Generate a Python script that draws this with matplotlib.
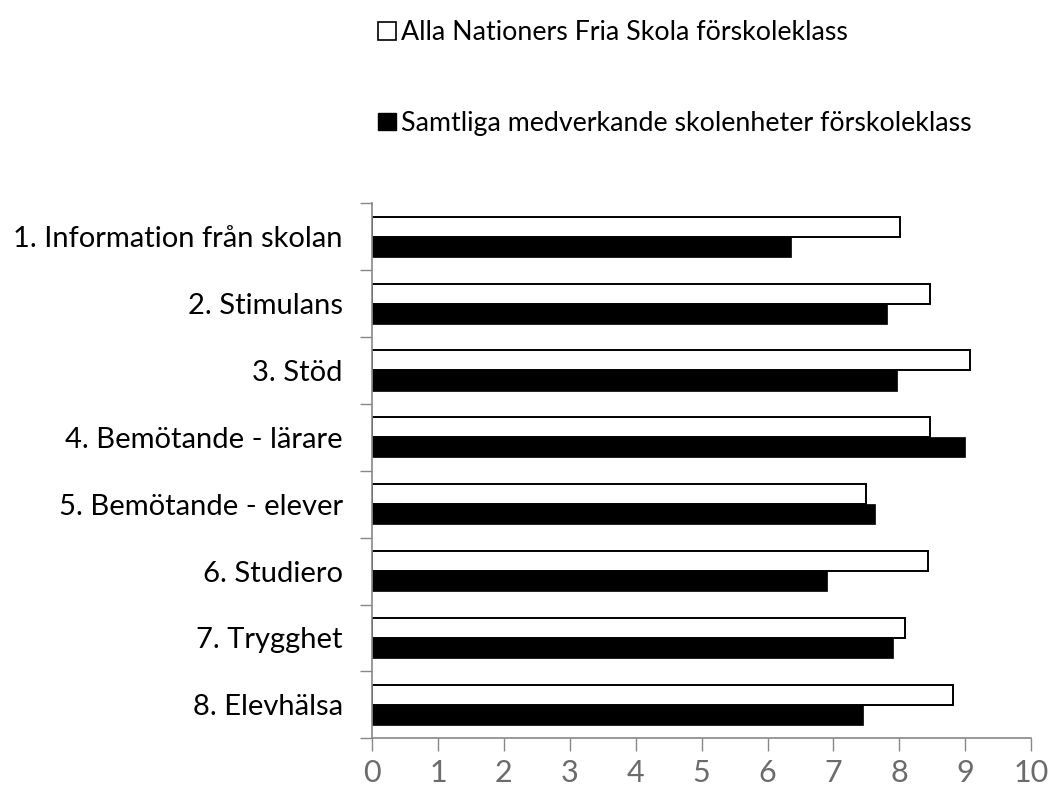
import numpy as np
import matplotlib.pyplot as plt
from matplotlib.patches import Patch

categories = ["1. Information från skolan", "2. Stimulans", "3. Stöd",
              "4. Bemötande - lärare", "5. Bemötande - elever", "6. Studiero",
              "7. Trygghet", "8. Elevhälsa"]
school = [8.01, 8.47, 9.07, 8.47, 7.50, 8.44, 8.08, 8.81]
all_units = [6.36, 7.81, 7.97, 9.00, 7.63, 6.90, 7.91, 7.45]
series_names = ["Alla Nationers Fria Skola förskoleklass",
                "Samtliga medverkande skolenheter förskoleklass"]
xticks = list(range(0, 11))

plt.rcParams['font.family'] = ['Lato', 'DejaVu Sans']

fig = plt.figure(figsize=(10.48, 7.87), dpi=100)
ax = fig.add_axes([0.355, 0.0619, 0.629, 0.6798])

y = np.arange(len(categories))
h = 0.3
ax.barh(y - h / 2, school, height=h, color='white', edgecolor='black', linewidth=1.4)
ax.barh(y + h / 2, all_units, height=h, color='black', edgecolor='black', linewidth=0.5)

ax.set_xlim(0, 10)
ax.set_ylim(len(categories) - 0.5, -0.5)
ax.set_xticks(xticks)
ax.set_xticklabels([str(t) for t in xticks], fontsize=22, color='#6b6b6b')
ax.set_yticks(y)
ax.set_yticklabels(categories, fontsize=21, color='black')
ax.set_yticks(np.arange(-0.5, len(categories)), minor=True)
ax.tick_params(axis='y', which='major', length=0, pad=21)
ax.tick_params(axis='y', which='minor', length=9, width=1, color='#888888')
ax.tick_params(axis='x', length=9, width=1, color='#888888', pad=6)

for s in ['top', 'right']:
    ax.spines[s].set_visible(False)
for s in ['left', 'bottom']:
    ax.spines[s].set_color('#888888')
    ax.spines[s].set_linewidth(1.2)

handles = [Patch(facecolor='white', edgecolor='black', linewidth=1.2),
           Patch(facecolor='black', edgecolor='black')]
fig.legend(handles, series_names, loc='upper left', bbox_to_anchor=(0.338, 1.005),
           frameon=False, fontsize=19.3, labelspacing=2.45, handlelength=0.65,
           handleheight=0.65, handletextpad=0.2)

fig.savefig('out.png', dpi=100)
